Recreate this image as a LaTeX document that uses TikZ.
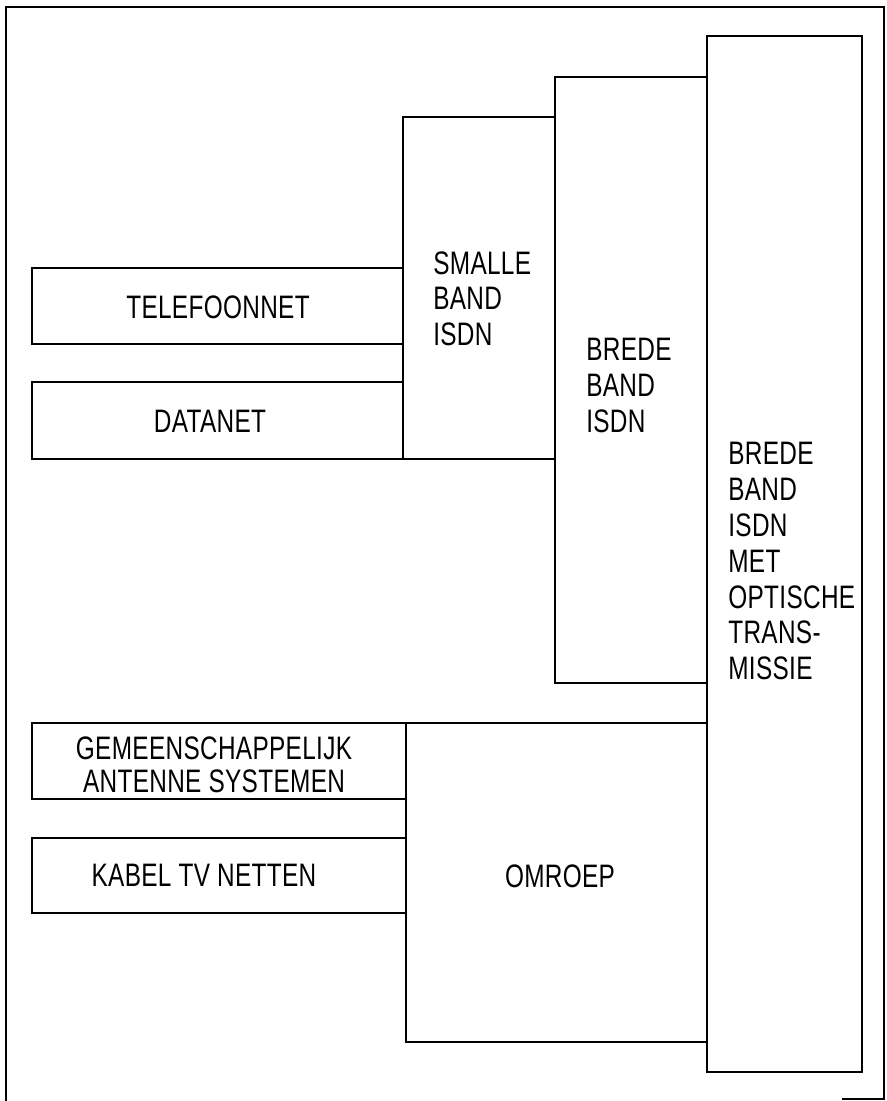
\documentclass[tikz,border=0pt]{standalone}
\usepackage{fontspec}
\newfontfamily\dinfont{Liberation Sans}[FakeStretch=0.75,LetterSpace=1]
\begin{document}
\begin{tikzpicture}[x=0.02cm,y=-0.02cm,line width=1.5pt,
    lbl/.style={inner sep=0pt,font=\dinfont\fontsize{18.5}{20.4}\selectfont},
    stack/.style={lbl,anchor=north west,align=left}]
\useasboundingbox (0,0) rectangle (886,1101);
% frame
\draw (6,1101)--(6,7)--(884,7)--(884,1099)--(842,1099);

% isdn steps
\draw (403,117) rectangle (555,459);
\draw (555,77) rectangle (707,683);
\draw (707,36) rectangle (862,1072);
\node[stack] (smal) at (432,250) {SMALLE\\BAND\\ISDN};
\node[stack] (breed) at (585,337) {BREDE\\BAND\\ISDN};
\node[stack] (optisch) at (727,441) {BREDE\\BAND\\ISDN\\MET\\OPTISCHE\\TRANS-\\MISSIE};

% telefoon en data
\draw (32,268) rectangle (403,344);
\draw (32,382) rectangle (403,459);
\node[lbl] (telefoon) at (218,307) {TELEFOONNET};
\node[lbl] (data) at (210,421) {DATANET};

% omroep
\draw (32,723) rectangle (406,799);
\draw (32,838) rectangle (406,913);
\draw (406,723) rectangle (707,1042);
\node[lbl,align=center,font=\dinfont\fontsize{18.5}{19}\selectfont] (gemeen) at (214,765) {GEMEENSCHAPPELIJK\\ANTENNE SYSTEMEN};
\node[lbl] (kabel) at (204,875) {KABEL TV NETTEN};
\node[lbl] (omroep) at (560,876) {OMROEP};
\end{tikzpicture}
\end{document}
